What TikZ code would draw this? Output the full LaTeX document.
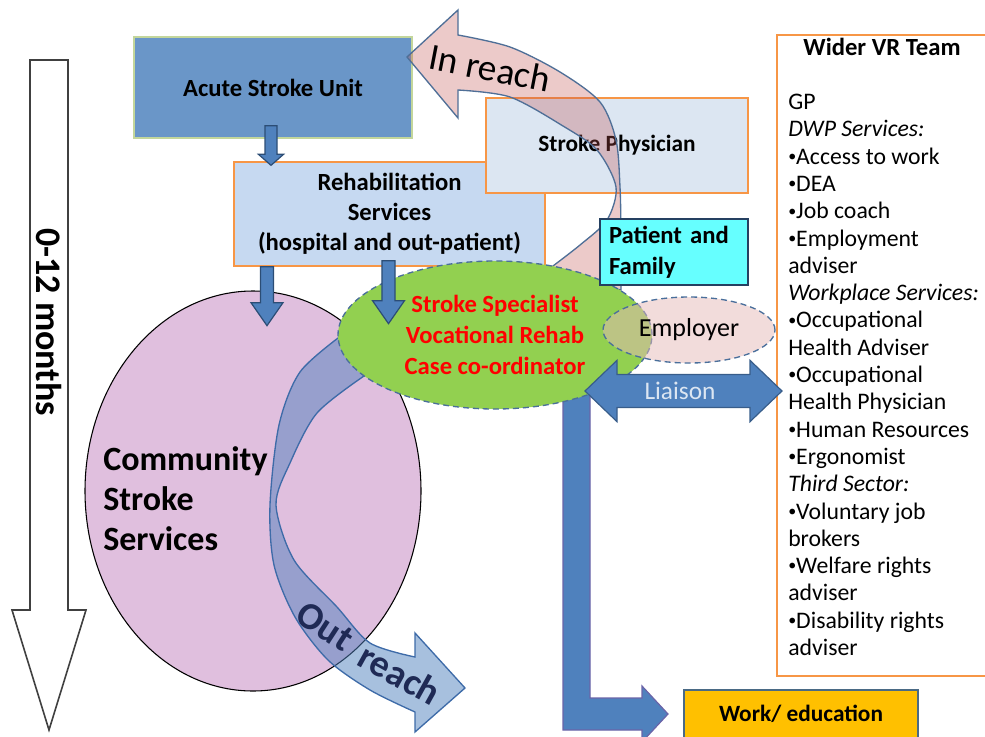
\documentclass[tikz,border=0pt]{standalone}
\usepackage{fontspec}
\setmainfont{Carlito}
\usetikzlibrary{calc,shapes.geometric}

\definecolor{asublue}{HTML}{6A96C8}
\definecolor{asuedge}{HTML}{C3D69B}
\definecolor{rehabfill}{HTML}{C6D9F1}
\definecolor{orangeedge}{HTML}{F79646}
\definecolor{physfill}{HTML}{DCE6F2}
\definecolor{patfill}{HTML}{66FFFF}
\definecolor{patedge}{HTML}{254061}
\definecolor{greenfill}{HTML}{92D050}
\definecolor{dashedge}{HTML}{4A6F9B}
\definecolor{emplfill}{HTML}{E6B9B8}
\definecolor{arrowblue}{HTML}{4F81BD}
\definecolor{arrowedge}{HTML}{2C4D75}
\definecolor{liaisonedge}{HTML}{385D8A}
\definecolor{workedge}{HTML}{4A6A85}
\definecolor{workarrowedge}{HTML}{6A64A8}
\definecolor{workfill}{HTML}{FFC000}
\definecolor{commfill}{HTML}{E0BFDE}
\definecolor{inreachfill}{HTML}{C0504D}
\definecolor{inreachedge}{HTML}{4F6F97}
\definecolor{outreachedge}{HTML}{3E6BA8}
\definecolor{outtext}{HTML}{1F2A55}
\definecolor{liaisontext}{HTML}{DCE6F2}

\newcommand\fsz[2]{\fontsize{#1}{#2}\selectfont}
% small list bullet
\newcommand\vrbul{\raisebox{2pt}{\fsz{12}{12}•}}

% vertical block arrow: start, tip, shaft half width, head half width, head length
\newcommand\vblockarrow[5]{%
  \draw[smallarrow] let \p1=(#1), \p2=(#2) in
    (\x1-#3,\y1) -- (\x1-#3,\y2+#5) -- (\x1-#4,\y2+#5) -- (\x1,\y2)
    -- (\x1+#4,\y2+#5) -- (\x1+#3,\y2+#5) -- (\x1+#3,\y1) -- cycle;}

\begin{document}
\begin{tikzpicture}[x=0.75pt,y=-0.75pt,
  boxfont/.style={font=\fsz{18.5}{22.5}\bfseries},
  rectbox/.style={draw, line width=1pt, inner sep=0, align=center},
  smallarrow/.style={draw=arrowedge, line width=0.9pt, fill=arrowblue},
  listtext/.style={anchor=base west, inner sep=0, font=\fsz{17.8}{21}}]
\useasboundingbox (0,0) rectangle (985,736);

% time line
\draw[draw=black!75, line width=1.2pt, fill=white]
  (30,60) -- (68,60) -- (68,610) -- (86,610) -- (49,730) -- (12,610) -- (30,610) -- cycle;
\node[rotate=-90, font=\fsz{27}{32}\bfseries] (months) at (49,322) {0-12 months};

% wider team
\node[draw=orangeedge, line width=1pt, fill=white, minimum width=163.5pt,
      minimum height=480.75pt, inner sep=0] (vr) at (886,355.5) {};
\node[boxfont] (vrtitle) at (882,47) {Wider VR Team};
\foreach [count=\i] \t in {GP, {\itshape DWP Services:}, \vrbul Access to work,
    \vrbul DEA, \vrbul Job coach, \vrbul Employment, adviser,
    {\itshape Workplace Services:}, \vrbul Occupational, Health Adviser,
    \vrbul Occupational, Health Physician, \vrbul Human Resources,
    \vrbul Ergonomist, {\itshape Third Sector:}, \vrbul Voluntary job,
    brokers, \vrbul Welfare rights, adviser, \vrbul Disability rights, adviser}
  \node[listtext] (vr\i) at (788,{109.5+27.3*(\i-1)}) {\t};

% community services
\node[ellipse, draw=black, line width=0.8pt, fill=commfill, minimum width=252pt,
      minimum height=300pt, inner sep=0] (css) at (253,491) {};

% hospital side
\node[rectbox, draw=asuedge, fill=asublue, minimum width=208.5pt,
      minimum height=75.75pt, boxfont] (asu) at (273,87.5) {Acute Stroke Unit};
\node[rectbox, draw=orangeedge, fill=rehabfill, minimum width=233.25pt,
      minimum height=78pt, boxfont] (rehab) at (389.5,214)
      {Rehabilitation\\Services\\(hospital and out-patient)};
\node[rectbox, draw=orangeedge, fill=physfill, minimum width=196.5pt,
      minimum height=71.25pt, font=\fsz{17.5}{21}\bfseries] (phys) at (617,145.5)
      {Stroke Physician};

% in reach band
\path[draw=inreachedge, line width=1pt, fill=inreachfill, fill opacity=0.3]
  plot[smooth] coordinates {(458,35) (510,47) (560,72) (600,102) (616,140)
                            (620,187) (621,235) (621,290)}
  -- (545,272)
  -- plot[smooth] coordinates {(545,272) (580,245) (607,220) (616,187)
                               (597,150) (563,126) (510,97) (458,90)}
  -- (458,118) -- (407,57) -- (458,10) -- cycle;

% route to work
\coordinate (wa0) at (576.5,380);
\coordinate (watip) at (668,714);
\draw[draw=workarrowedge, line width=0.9pt, fill=arrowblue]
  let \p1=(wa0), \p2=(watip) in
  (\x1-10.125pt,\y1) -- (\x1-10.125pt,\y2-12pt) -- (\x2-19.5pt,\y2-12pt)
  -- (\x2-19.5pt,\y2-21pt) -- (\x2,\y2) -- (\x2-19.5pt,\y2+21pt)
  -- (\x2-19.5pt,\y2+12pt) -- (\x1+10.125pt,\y2+12pt) -- (\x1+10.125pt,\y1) -- cycle;

% out reach band
\path[draw=outreachedge, line width=1pt, fill=arrowblue, fill opacity=0.5]
  plot[smooth] coordinates {(342,335) (300,372) (279,425) (270,505) (274,565)
                            (295,617) (328,660) (370,690) (415,712)}
  -- (415,732) -- (465,688) -- (415,633) -- (415,657)
  -- plot[smooth] coordinates {(415,657) (370,643) (337,607) (294,560) (276,505)
                               (290,463) (317,413) (364,376)}
  -- cycle;

\node[anchor=west, align=left, font=\fsz{25.5}{30}\bfseries, inner sep=0]
  (csstext) at (103,499) {Community\\Stroke\\Services};

% coordinator and partners
\node[ellipse, draw=dashedge, dash pattern=on 4.5pt off 3pt, line width=1pt,
      fill=greenfill, minimum width=235.5pt, minimum height=111pt, inner sep=0,
      align=center, text=red, font=\fsz{18.5}{23.25}\bfseries] (vrc) at (495,335)
      {Stroke Specialist\\Vocational Rehab\\Case co-ordinator};
\node[draw=patedge, line width=1pt, fill=patfill, minimum width=111pt,
      minimum height=49.5pt, inner xsep=6.75pt, inner ysep=0, text width=97.5pt,
      align=left, font=\fsz{18.5}{23.25}\bfseries] (pat) at (674,252)
      {Patient and\\Family};
\node[ellipse, draw=dashedge, dash pattern=on 4.5pt off 3pt, line width=1pt,
      fill=emplfill, fill opacity=0.5, text opacity=1, minimum width=129pt,
      minimum height=49.5pt, inner sep=0, font=\fsz{19.5}{23}] (empl) at (689,330)
      {Employer};

% liaison
\coordinate (liL) at (585,391);
\coordinate (liR) at (782,391);
\draw[draw=liaisonedge, line width=0.9pt, fill=arrowblue]
  let \p1=(liL), \p2=(liR) in
  (\x1,\y1) -- (\x1+24pt,\y1+23pt) -- (\x1+24pt,\y1+12.4pt) -- (\x2-24pt,\y1+12.4pt)
  -- (\x2-24pt,\y1+23pt) -- (\x2,\y2) -- (\x2-24pt,\y2-23pt) -- (\x2-24pt,\y2-12.4pt)
  -- (\x1+24pt,\y1-12.4pt) -- (\x1+24pt,\y1-23pt) -- cycle;
\node[text=liaisontext, font=\fsz{19}{23}] (liaison) at (680,391) {Liaison};

% pathway arrows
\coordinate (a1s) at ($(asu.south)+(-2,-13)$);
\coordinate (a1e) at ($(a1s |- rehab.north)+(0,4)$);
\vblockarrow{a1s}{a1e}{4.5pt}{9.4pt}{8.25pt}
\coordinate (a2s) at ($(rehab.south)+(-122.5,0)$);
\coordinate (a2e) at ($(a2s)+(0,59)$);
\vblockarrow{a2s}{a2e}{4.9pt}{12pt}{17.25pt}
\coordinate (a3s) at ($(rehab.south)+(-1,-6)$);
\coordinate (a3e) at ($(a3s)+(0,63)$);
\vblockarrow{a3s}{a3e}{4.9pt}{12pt}{17.25pt}

% outcome
\node[rectbox, draw=workedge, fill=workfill, minimum width=175.5pt,
      minimum height=36pt, font=\fsz{17.5}{21}\bfseries] (work) at (801,714)
      {Work/ education};

% band labels
\node[rotate=-11, font=\fsz{28}{32}] (inreach) at (490,68) {In reach};
\node[rotate=-33, inner sep=0, text=outtext, font=\fsz{28.5}{32}\bfseries]
  (outlbl) at (325,626) {Out};
\node[rotate=-29, inner sep=0, text=outtext, font=\fsz{28.5}{32}\bfseries]
  (reachlbl) at (400,674) {reach};
\end{tikzpicture}
\end{document}
